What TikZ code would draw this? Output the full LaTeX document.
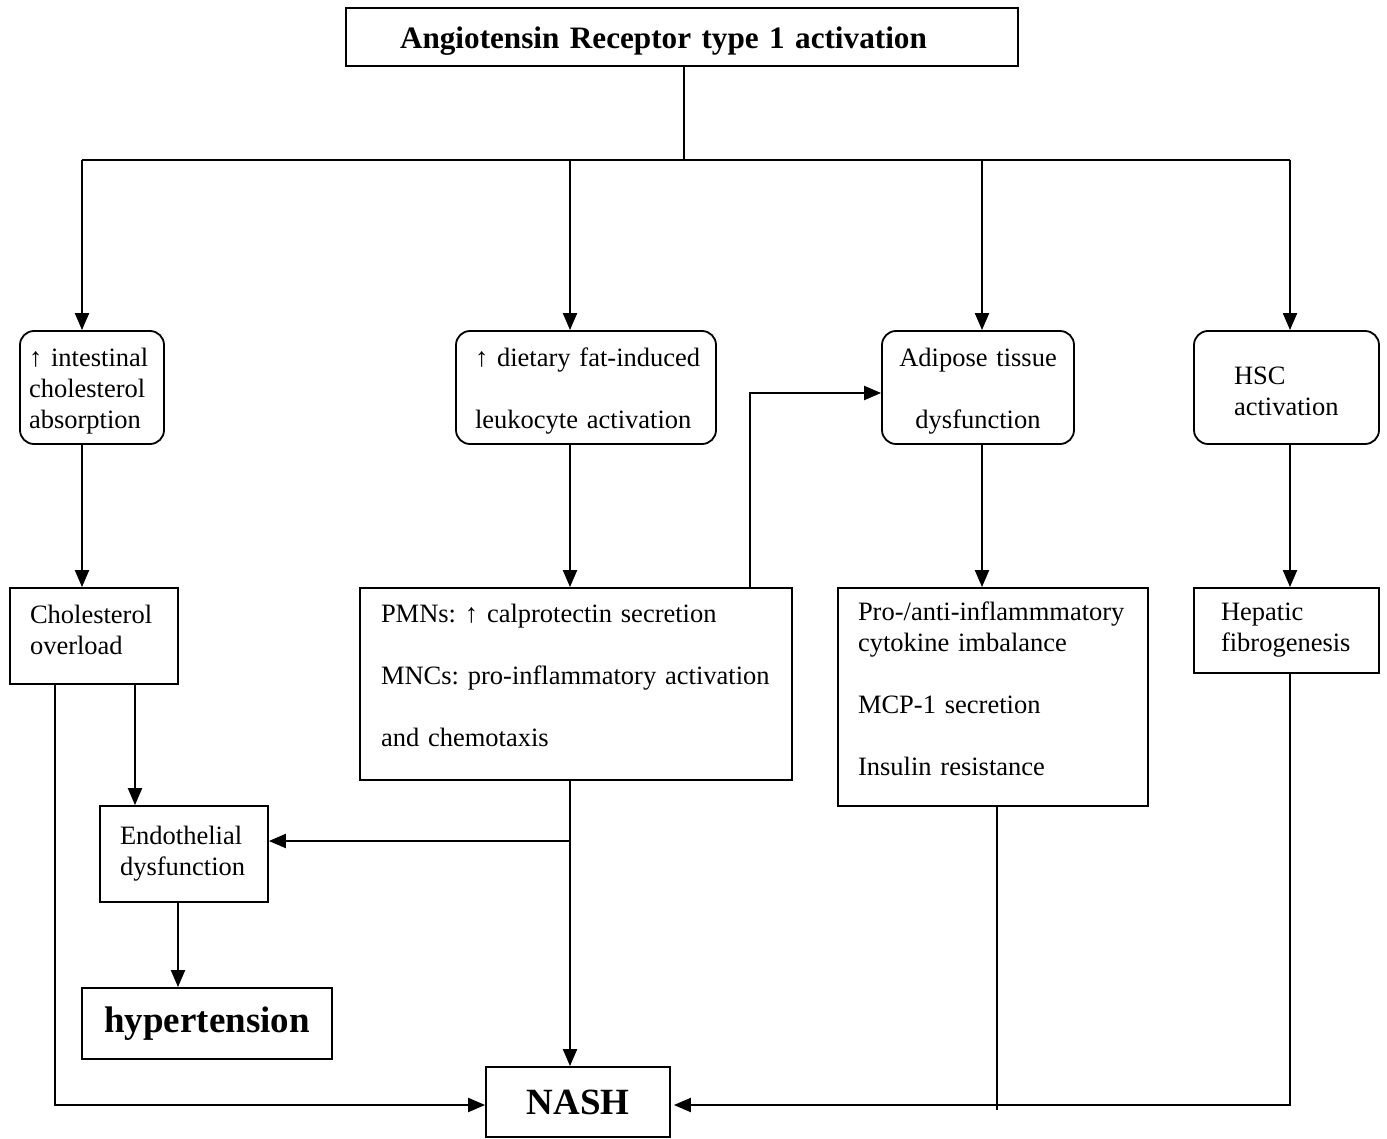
\documentclass[tikz,border=0pt]{standalone}
\usepackage{fontspec}
\setmainfont{Liberation Serif}
\usetikzlibrary{arrows.meta}
\frenchspacing
\newcommand{\uprule}[1]{\rule{0pt}{#1}}
\newcommand{\dnrule}[1]{\rule[-#1]{0pt}{0pt}}
\begin{document}
\begin{tikzpicture}[x=1pt,y=-1pt,
  base/.style={draw, line width=1.8pt, inner ysep=0pt, font=\fontsize{26.5}{31}\selectfont\frenchspacing, align=left},
  rbox/.style={base, rounded corners=14pt},
  sbox/.style={base},
  bigbold/.style={draw, line width=1.8pt, font=\fontsize{37}{44}\selectfont\bfseries, align=center},
  ln/.style={line width=2pt},
  arr/.style={line width=2.1pt, -{Triangle[length=17pt,width=14pt]}},
]
\useasboundingbox (0,0) rectangle (1387,1139);

% top box
\node[draw, line width=1.5pt, minimum width=672pt, minimum height=58pt, text width=564pt, inner xsep=54pt, inner ysep=0pt,
      text height=28pt, text depth=4pt,
      font=\fontsize{31.2}{37}\selectfont\bfseries, align=left] (T) at (682,37) {Angiotensin Receptor type 1 activation};

% first row (rounded)
\node[rbox, minimum width=144pt, minimum height=113pt, text width=126pt, inner xsep=9pt] (B1) at (92,387.5)
  {\mbox{\uprule{25pt}↑ intestinal}\\ \mbox{cholesterol}\\ \mbox{absorption}};
\node[rbox, minimum width=260pt, minimum height=113pt, text width=222pt, inner xsep=19pt] (B2) at (586,387.5)
  {\mbox{\uprule{25pt}↑ dietary fat-induced}\\[31pt] \mbox{leukocyte activation}};
\node[rbox, minimum width=192pt, minimum height=113pt, text width=172pt, inner xsep=10pt, align=center] (B3) at (978,387.5)
  {\mbox{\uprule{25pt}Adipose tissue}\\[31pt] \mbox{dysfunction}};
\node[rbox, minimum width=185pt, minimum height=113pt, text width=105pt, inner xsep=40pt] (B4) at (1286.5,387.5)
  {\uprule{25pt}HSC\\ \mbox{activation}};

% second row
\node[sbox, minimum width=168pt, minimum height=96pt, text width=128pt, inner xsep=20pt] (C1) at (94,636)
  {\mbox{Cholesterol}\\ overload\dnrule{13pt}};
\node[sbox, minimum width=432pt, minimum height=192pt, text width=390pt, inner xsep=21pt] (C2) at (576,684)
  {\mbox{PMNs: ↑ calprotectin secretion}\\[31pt] \mbox{MNCs: pro-inflammatory activation}\\[31pt] and chemotaxis\dnrule{17pt}};
\node[sbox, minimum width=310pt, minimum height=218pt, text width=270pt, inner xsep=20pt] (C3) at (993,697)
  {\mbox{Pro-/anti-inflammmatory}\\ \mbox{cytokine imbalance}\\[31pt] \mbox{MCP-1 secretion}\\[31pt] \mbox{Insulin resistance}\dnrule{17pt}};
\node[sbox, minimum width=185pt, minimum height=85pt, text width=131pt, inner xsep=27pt] (C4) at (1286.5,630.5)
  {Hepatic\\ \mbox{fibrogenesis}};

% lower boxes
\node[sbox, minimum width=168pt, minimum height=96pt, text width=128pt, inner xsep=20pt] (E) at (184,854)
  {\mbox{Endothelial}\\ \mbox{dysfunction}};
\node[bigbold, minimum width=250pt, minimum height=71pt] (H) at (207,1023.5) {hypertension};
\node[bigbold, minimum width=184pt, minimum height=70pt] (N) at (578,1102) {NASH};

% junction coordinates
\coordinate (j0) at (684,160);
\coordinate (j1) at (82,160);
\coordinate (j2) at (570,160);
\coordinate (j3) at (982,160);
\coordinate (j4) at (1290,160);
\coordinate (k) at (750,393);
\coordinate (m) at (135,700);
\coordinate (n) at (55,1105);
\coordinate (b) at (570,841);
\coordinate (p) at (178,950);
\coordinate (q) at (997,1110);
\coordinate (r) at (1290,1105);

% connectors
\draw[line width=1.5pt] (T.south -| j0) -- (j0);
\draw[ln] (j1) -- (j4);
\draw[arr] (j1) -- (j1 |- B1.north);
\draw[arr] (j2) -- (j2 |- B2.north);
\draw[arr] (j3) -- (j3 |- B3.north);
\draw[arr] (j4) -- (j4 |- B4.north);

\draw[arr] (j1 |- B1.south) -- (j1 |- C1.north);
\draw[arr] (j2 |- B2.south) -- (j2 |- C2.north);
\draw[arr] (j3 |- B3.south) -- (j3 |- C3.north);
\draw[arr] (j4 |- B4.south) -- (j4 |- C4.north);

\draw[arr] (k |- C2.north) -- (k) -- (k -| B3.west);

\draw[arr] (m |- C1.south) -- (m |- E.north);
\draw[arr] (n |- C1.south) -- (n) -- (n -| N.west);
\draw[arr] (j2 |- C2.south) -- (j2 |- N.north);
\draw[arr] (b) -- (b -| E.east);
\draw[arr] (p |- E.south) -- (p |- H.north);
\draw[line width=1.3pt] (q |- C3.south) -- (q);
\draw[arr] (j4 |- C4.south) -- (r) -- ([xshift=3pt]r -| N.east);
\end{tikzpicture}
\end{document}
